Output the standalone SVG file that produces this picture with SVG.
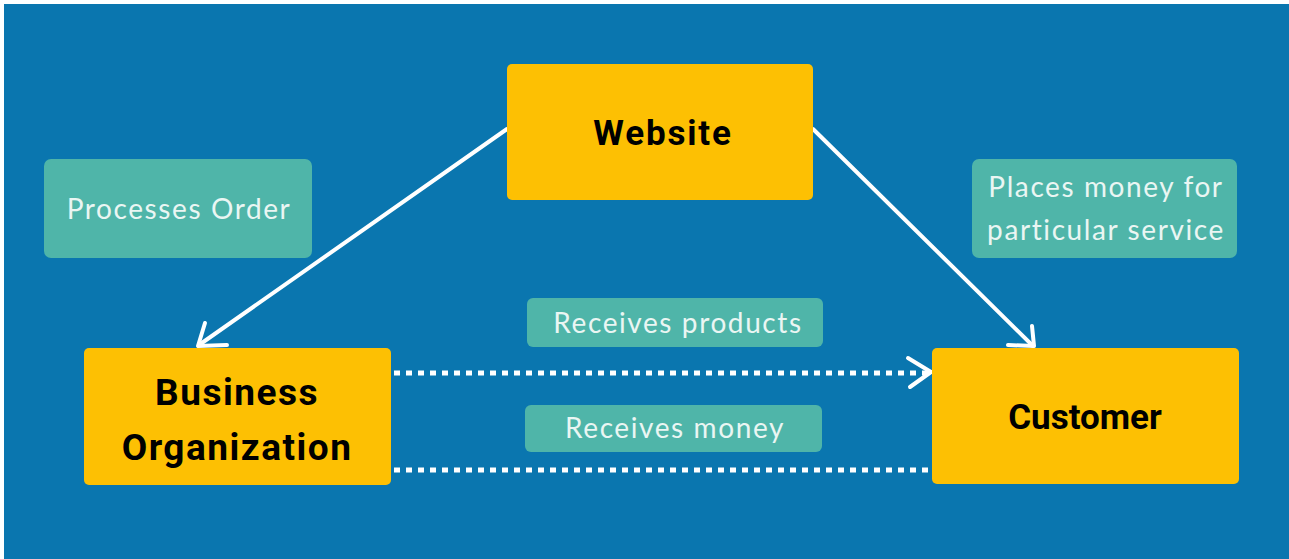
<svg xmlns="http://www.w3.org/2000/svg" width="1289" height="559" viewBox="0 0 1289 559">
<style>
.bg{fill:#0a76af}
.box{fill:#fdc003}
.tag{fill:#4fb5a9}
.title{font-family:Roboto,"Liberation Sans",sans-serif;font-weight:bold;font-size:35px;fill:#000;text-anchor:middle}
.big{font-size:37px;letter-spacing:1.5px}
.lbl{font-family:Lato,"Open Sans",sans-serif;font-size:28px;fill:#eaf6f3;text-anchor:middle;letter-spacing:1.6px}
.solid{stroke:#fff;stroke-width:4;fill:none;stroke-linecap:round;stroke-linejoin:round}
.dot{stroke:#fff;stroke-width:5;fill:none;stroke-dasharray:6 6}
</style>
<rect x="0" y="0" width="1289" height="559" fill="#fff"/>
<rect class="bg" x="4" y="4" width="1285" height="555"/>
<g id="connectors">
<path class="solid" d="M507,129 L199,345"/>
<path class="solid" d="M205,323 L198,346 L227,345"/>
<path class="solid" d="M813,129 L1033,346"/>
<path class="solid" d="M1032,326 L1034,346 L1008,345"/>
<path class="dot" d="M394,373 L928,373"/>
<path class="solid" d="M908,358 L931,372 L910,387"/>
<path class="dot" d="M394,470 L932,470"/>
</g>
<g id="website">
<rect class="box" x="507" y="64" width="306" height="136" rx="5"/>
<text class="title" x="663" y="145" font-size="36" letter-spacing="1.8">Website</text>
</g>
<g id="business">
<rect class="box" x="84" y="348" width="307" height="137" rx="5"/>
<text class="title big" x="237" y="405">Business</text>
<text class="title big" x="237" y="460">Organization</text>
</g>
<g id="customer">
<rect class="box" x="932" y="348" width="307" height="136" rx="5"/>
<text class="title" x="1085" y="429">Customer</text>
</g>
<g id="processes-order">
<rect class="tag" x="44" y="159" width="268" height="99" rx="7"/>
<text class="lbl" x="179" y="219">Processes Order</text>
</g>
<g id="places-money">
<rect class="tag" x="972" y="159" width="265" height="99" rx="7"/>
<text class="lbl" x="1106" y="197">Places money for</text>
<text class="lbl" x="1106" y="240">particular service</text>
</g>
<g id="receives-products">
<rect class="tag" x="527" y="298" width="296" height="49" rx="6"/>
<text class="lbl" x="678" y="333">Receives products</text>
</g>
<g id="receives-money">
<rect class="tag" x="525" y="405" width="297" height="47" rx="6"/>
<text class="lbl" x="675" y="438">Receives money</text>
</g>
</svg>
